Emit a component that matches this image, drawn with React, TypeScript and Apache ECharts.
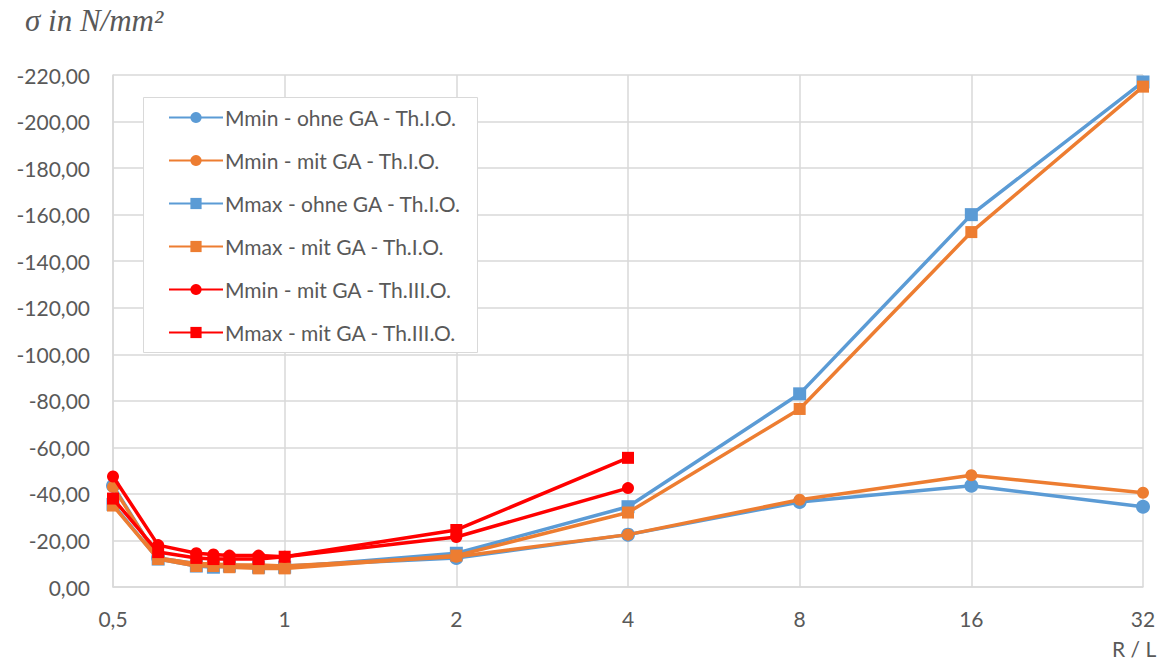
import React, { useEffect, useRef } from "react";
import * as echarts from "echarts";

const xValues = [0.5, 0.6, 0.7, 0.75, 0.8, 0.9, 1, 2, 4, 8, 16, 32];
const mminOhneI = [-43.5, -12.5, -10, -9.5, -9.5, -9, -9, -12.5, -22.5, -36.5, -43.5, -34.5];
const mminMitI = [-43, -12.5, -10, -10, -9.5, -9.5, -9, -13, -22.5, -37.5, -48, -40.5];
const mmaxOhneI = [-35.5, -12, -9, -8.5, -9, -8.5, -8.5, -14.5, -34.5, -83, -160, -217];
const mmaxMitI = [-35, -12, -9, -9, -8.5, -8, -8, -13.5, -32, -76.5, -152.5, -215];
const mminMitIII = [-47.5, -18, -14.5, -14, -13.5, -13.5, -13, -21.5, -42.5];
const mmaxMitIII = [-38, -15, -12.5, -12, -12, -12, -13, -24.5, -55.5];

const seriesNames = [
  "Mmin - ohne GA - Th.I.O.",
  "Mmin - mit GA - Th.I.O.",
  "Mmax - ohne GA - Th.I.O.",
  "Mmax - mit GA - Th.I.O.",
  "Mmin - mit GA - Th.III.O.",
  "Mmax - mit GA - Th.III.O.",
];

const BLUE = "#5B9BD5";
const ORANGE = "#ED7D31";
const RED = "#FF0000";
const FONT = "Lato";
const TEXT = "#595959";

function pairs(vals: number[]) {
  return vals.map((v, i) => [xValues[i], v]);
}

export default function App() {
  const ref = useRef<HTMLDivElement>(null);
  useEffect(() => {
    if (!ref.current) return;
    const chart = echarts.init(ref.current, undefined, { renderer: "svg" });
    const mk = (name: string, vals: number[], color: string, symbol: string, size: number, z: number) => ({
      name,
      type: "line",
      data: pairs(vals),
      symbol,
      symbolSize: size,
      z,
      lineStyle: { color, width: 3.5 },
      itemStyle: { color },
      emphasis: { disabled: true },
    });
    chart.setOption({
      animation: false,
      backgroundColor: "#ffffff",
      textStyle: { fontFamily: FONT },
      grid: { left: 113, right: 23, top: 75, bottom: 79, containLabel: false },
      graphic: [
        {
          type: "rect",
          shape: { x: 143.5, y: 97.5, width: 334, height: 255 },
          style: { fill: "#ffffff", stroke: "#d9d9d9", lineWidth: 1 },
          z: 5,
        },
        {
          type: "text",
          left: 25,
          top: 5,
          style: {
            text: "σ in N/mm²",
            font: "italic 31px 'Liberation Serif'",
            fill: TEXT,
          },
        },
        {
          type: "text",
          left: 1112,
          top: 638,
          style: {
            text: "R / L",
            font: "21px Lato",
            fill: TEXT,
          },
        },
      ],
      legend: {
        orient: "vertical",
        left: 163,
        top: 102,
        itemWidth: 54,
        itemHeight: 14,
        itemGap: 22,
        z: 10,
        textStyle: { fontFamily: FONT, fontSize: 21, color: TEXT, padding: [0, 0, 0, -3] },
        data: seriesNames,
      },
      xAxis: {
        type: "log",
        logBase: 2,
        min: 0.5,
        max: 32,
        axisLine: { show: true, lineStyle: { color: "#d9d9d9", width: 1.5 } },
        axisTick: { show: false },
        axisLabel: {
          fontFamily: FONT,
          fontSize: 21,
          color: TEXT,
          margin: 21,
          formatter: (v: number) => String(parseFloat(v.toPrecision(6))).replace(".", ","),
        },
        splitLine: { show: true, lineStyle: { color: "#d9d9d9", width: 1.5 } },
      },
      yAxis: {
        type: "value",
        min: -220,
        max: 0,
        interval: 20,
        inverse: true,
        axisLine: { show: true, lineStyle: { color: "#d9d9d9", width: 1.5 } },
        axisTick: { show: false },
        axisLabel: {
          fontFamily: FONT,
          fontSize: 21,
          color: TEXT,
          margin: 23,
          formatter: (v: number) => (v === 0 ? 0 : v).toFixed(2).replace(".", ","),
        },
        splitLine: { show: true, lineStyle: { color: "#d9d9d9", width: 1.5 } },
      },
      series: [
        mk(seriesNames[0], mminOhneI, BLUE, "circle", 14, 2),
        mk(seriesNames[1], mminMitI, ORANGE, "circle", 12, 3),
        mk(seriesNames[2], mmaxOhneI, BLUE, "rect", 13, 2),
        mk(seriesNames[3], mmaxMitI, ORANGE, "rect", 12, 3),
        mk(seriesNames[4], mminMitIII, RED, "circle", 12, 4),
        mk(seriesNames[5], mmaxMitIII, RED, "rect", 12, 4),
      ],
    });
    return () => chart.dispose();
  }, []);
  return (
    <div
      ref={ref}
      style={{ position: "fixed", left: 0, top: 0, width: 1166, height: 666, background: "#fff" }}
    />
  );
}
